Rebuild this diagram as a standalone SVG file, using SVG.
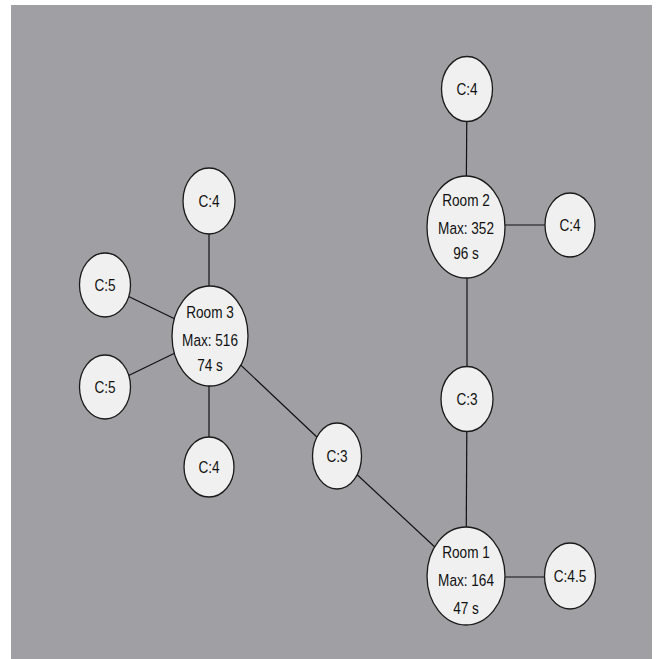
<svg xmlns="http://www.w3.org/2000/svg" width="657" height="659" viewBox="0 0 657 659">
<style>
.bg{fill:#a09fa4}
.n ellipse{fill:#f0f0f0;stroke:#1a1a1a;stroke-width:1.3}
.n text{font-family:"Liberation Sans",Arial,sans-serif;font-size:17px;fill:#111;text-anchor:middle}
#edges line{stroke:#111;stroke-width:1.2}
</style>
<rect x="0" y="0" width="657" height="659" fill="#ffffff"/>
<rect class="bg" x="11" y="5" width="641" height="654"/>
<g id="edges">
<line x1="467" y1="89" x2="466" y2="227"/>
<line x1="466" y1="225" x2="570" y2="225"/>
<line x1="467" y1="227" x2="467" y2="399"/>
<line x1="467" y1="399" x2="466" y2="576"/>
<line x1="466" y1="577" x2="570" y2="577"/>
<line x1="466" y1="576" x2="337" y2="456"/>
<line x1="337" y1="456" x2="210" y2="336"/>
<line x1="209" y1="201" x2="209" y2="467"/>
<line x1="105" y1="285" x2="210" y2="336"/>
<line x1="105" y1="387" x2="210" y2="336"/>
</g>
<g id="c4_top" class="n"><ellipse cx="467" cy="89" rx="25.5" ry="32.5"/><text transform="translate(467,95) scale(0.8,1)">C:4</text></g>
<g id="room2" class="n"><ellipse cx="466" cy="227" rx="39" ry="51"/><text transform="translate(466,206) scale(0.8,1)">Room 2</text><text transform="translate(466,234) scale(0.8,1)">Max: 352</text><text transform="translate(466,259) scale(0.8,1)">96 s</text></g>
<g id="c4_r2" class="n"><ellipse cx="570" cy="225" rx="25" ry="32"/><text transform="translate(570,231) scale(0.8,1)">C:4</text></g>
<g id="c3_right" class="n"><ellipse cx="467" cy="399" rx="26" ry="32.5"/><text transform="translate(467,405) scale(0.8,1)">C:3</text></g>
<g id="room1" class="n"><ellipse cx="466" cy="576" rx="39" ry="49"/><text transform="translate(466,558) scale(0.8,1)">Room 1</text><text transform="translate(466,586) scale(0.8,1)">Max: 164</text><text transform="translate(466,614) scale(0.8,1)">47 s</text></g>
<g id="c45" class="n"><ellipse cx="570" cy="576" rx="25.5" ry="33"/><text transform="translate(570,582) scale(0.8,1)">C:4.5</text></g>
<g id="c3_mid" class="n"><ellipse cx="337" cy="456" rx="24.5" ry="33"/><text transform="translate(337,462) scale(0.8,1)">C:3</text></g>
<g id="room3" class="n"><ellipse cx="210" cy="336" rx="38" ry="50"/><text transform="translate(210,318) scale(0.8,1)">Room 3</text><text transform="translate(210,346) scale(0.8,1)">Max: 516</text><text transform="translate(210,371) scale(0.8,1)">74 s</text></g>
<g id="c4_r3_top" class="n"><ellipse cx="209" cy="201" rx="26" ry="33"/><text transform="translate(209,207) scale(0.8,1)">C:4</text></g>
<g id="c4_r3_bot" class="n"><ellipse cx="209" cy="467" rx="25" ry="30"/><text transform="translate(209,473) scale(0.8,1)">C:4</text></g>
<g id="c5_up" class="n"><ellipse cx="105" cy="285" rx="25.5" ry="32"/><text transform="translate(105,291) scale(0.8,1)">C:5</text></g>
<g id="c5_low" class="n"><ellipse cx="105" cy="387" rx="25.5" ry="32"/><text transform="translate(105,393) scale(0.8,1)">C:5</text></g>
</svg>
